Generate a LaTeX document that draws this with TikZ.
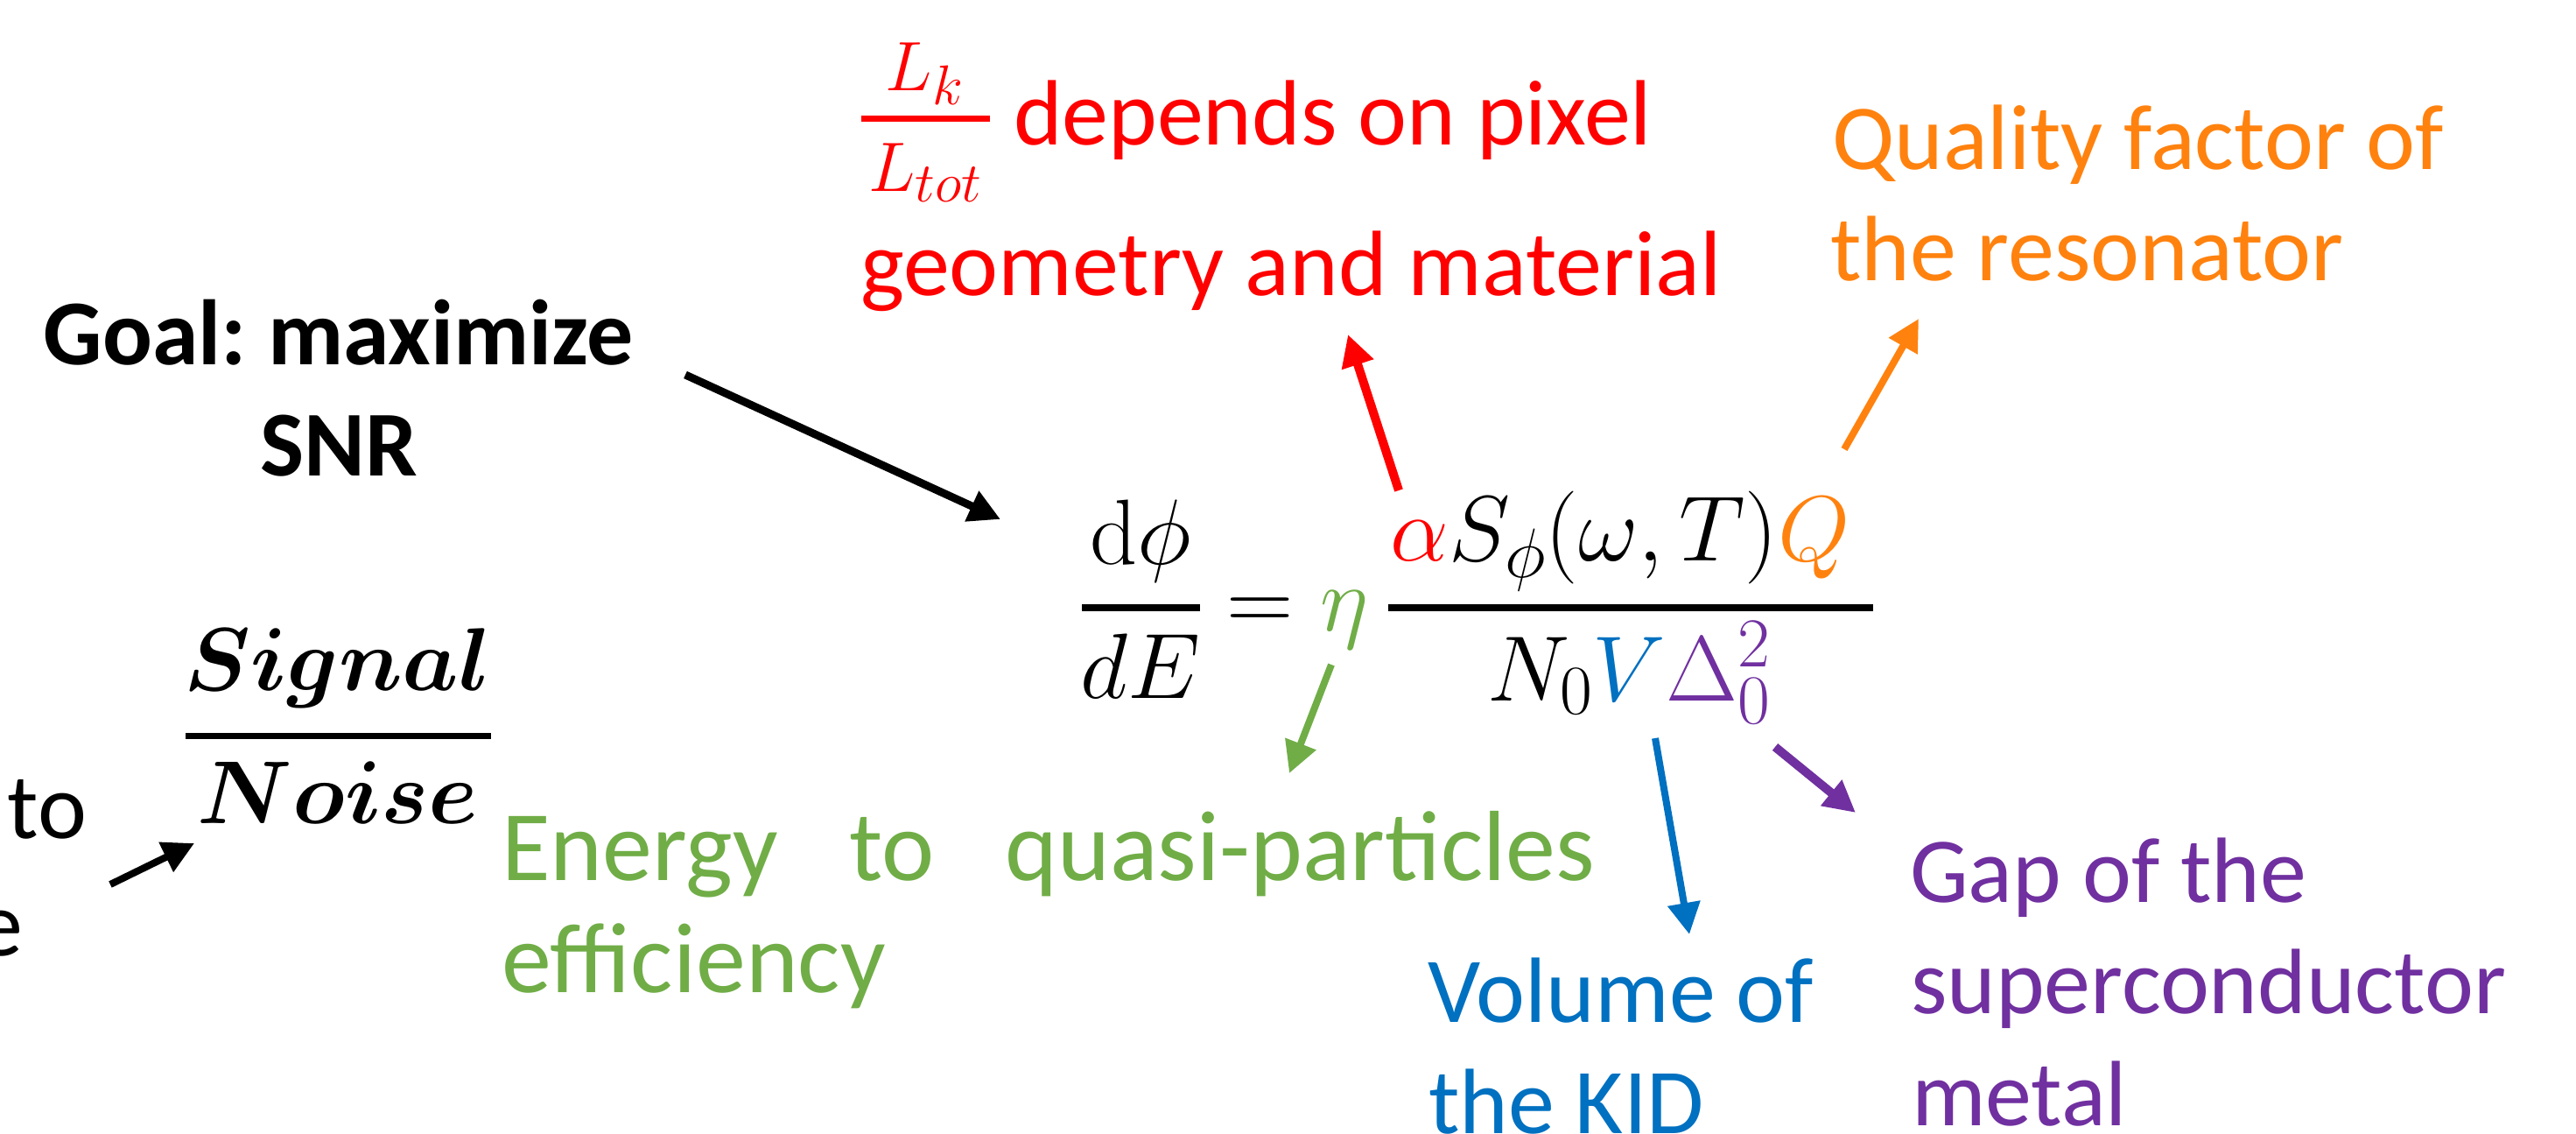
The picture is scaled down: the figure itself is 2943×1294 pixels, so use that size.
\RequirePackage{fix-cm}
\documentclass[tikz,border=0pt]{standalone}
\usepackage{amsmath,bm}
\usepackage[no-math]{fontspec}
\setmainfont{Carlito}
\usetikzlibrary{arrows.meta}
\frenchspacing
\DeclareMathSizes{106}{106}{80}{60}
\DeclareMathSizes{102}{102}{78}{58}
\DeclareMathSizes{80}{80}{64}{50}
\definecolor{cred}{HTML}{FF0000}
\definecolor{corange}{HTML}{FF820F}
\definecolor{cgreen}{HTML}{70AD47}
\definecolor{cblue}{HTML}{0070C0}
\definecolor{cpurple}{HTML}{7030A0}
\tikzset{
  lbl/.style={inner sep=0pt, outer sep=0pt, font=\fontsize{106}{127}\selectfont},
  bold lbl/.style={inner sep=0pt, outer sep=0pt, font=\bfseries\fontsize{106}{127}\selectfont},
  green lbl/.style={inner sep=0pt, outer sep=0pt, text=cgreen, font=\fontsize{114}{128}\selectfont},
  mth/.style={inner sep=0pt, outer sep=0pt, font=\fontsize{106}{120}\selectfont},
  smallmth/.style={inner sep=0pt, outer sep=0pt, font=\fontsize{80}{90}\selectfont},
  sigmth/.style={inner sep=0pt, outer sep=0pt, font=\fontsize{102}{120}\selectfont},
  arr/.style={-{Triangle[length=36pt,width=36pt]}, line width=9pt},
  fracbar/.style={line width=8pt},
}
\begin{document}
\begin{tikzpicture}[x=1pt,y=-1pt]
\useasboundingbox (0,0) rectangle (2943,1294);
\clip (0,0) rectangle (2943,1294);

% --- left texts
\node[bold lbl, anchor=base] (goal1) at (387,416) {Goal: maximize};
\node[bold lbl, anchor=base] (goal2) at (387,543) {SNR};
\node[lbl, anchor=base west] (to) at (9,957) {to};
\node[lbl, anchor=base east] (ee) at (26,1091) {e};

% --- Signal / Noise
\node[sigmth, anchor=base] (sig) at (386,788) {$\bm{Signal}$};
\draw[line width=7pt] (212,840) -- (561,840);
\node[sigmth, anchor=base] (noi) at (386,940) {$\bm{Noise}$};

% --- main equation
\node[mth, anchor=base] (dphi) at (1303,644) {$\mathrm{d}\phi$};
\draw[fracbar] (1236,694) -- (1371,694);
\node[mth, anchor=base] (dE) at (1303,797) {$dE$};
\node[mth, anchor=base] (eq) at (1440,720) {$=$};
\node[mth, anchor=base] (eta) at (1536,720) {$\textcolor{cgreen}{\eta}$};
\node[mth, anchor=base] (num) at (1851,640) {$\textcolor{cred}{\alpha}S_{\phi}(\omega,T)\textcolor{corange}{Q}$};
\draw[fracbar] (1586,694) -- (2140,694);
\node[mth, anchor=base] (den) at (1861,800) {$N_0\textcolor{cblue}{V}\textcolor{cpurple}{\Delta_0^2}$};

% --- red label
\node[smallmth, text=cred, anchor=base] (lk) at (1056,103) {$L_k$};
\draw[cred, line width=7pt] (984,135) -- (1131,135);
\node[smallmth, text=cred, anchor=base] (ltot) at (1057,218) {$L_{tot}$};
\node[lbl, text=cred, anchor=base west] (red1) at (1158,165) {depends on pixel};
\node[lbl, text=cred, anchor=base west] (red2) at (983,337) {geometry and material};

% --- orange label
\node[lbl, text=corange, anchor=base west] (or1) at (2093,193) {Quality factor of};
\node[lbl, text=corange, anchor=base west] (or2) at (2091,320) {the resonator};

% --- green label
\node[green lbl, anchor=base west] (gr1) at (573,1005) {\makebox[1249pt][s]{Energy to quasi-particles}};
\node[green lbl, anchor=base west] (gr2) at (573,1133) {efficiency};

% --- blue label
\node[lbl, text=cblue, anchor=base west] (bl1) at (1631,1167) {Volume of};
\node[lbl, text=cblue, anchor=base west] (bl2) at (1632,1294) {the KID};

% --- purple label
\node[lbl, text=cpurple, anchor=base west] (pu1) at (2182,1030) {Gap of the};
\node[lbl, text=cpurple, anchor=base west] (pu2) at (2183,1157) {superconductor};
\node[lbl, text=cpurple, anchor=base west] (pu3) at (2184,1285) {metal};

% --- arrow end points
\coordinate (sA) at (126,1010);  \coordinate (sB) at (222,963);
\coordinate (gA) at (783,428);   \coordinate (gB) at (1143,593);
\coordinate (rA) at (1598,560);  \coordinate (rB) at (1540,382);
\coordinate (oA) at (2107,513);  \coordinate (oB) at (2192,364);
\coordinate (eA) at (1521,759);  \coordinate (eB) at (1473,883);
\coordinate (vA) at (1891,843);  \coordinate (vB) at (1930,1067);
\coordinate (dA) at (2028,853);  \coordinate (dB) at (2120,928);

% --- arrows
\draw[arr, line width=8pt] (sA) -- (sB);
\draw[arr] (gA) -- (gB);
\draw[arr, cred, line width=10pt] (rA) -- (rB);
\draw[arr, corange, line width=8pt] (oA) -- (oB);
\draw[arr, cgreen, line width=8pt] (eA) -- (eB);
\draw[arr, cblue, line width=8pt] (vA) -- (vB);
\draw[arr, cpurple, line width=10pt] (dA) -- (dB);
\end{tikzpicture}
\end{document}
